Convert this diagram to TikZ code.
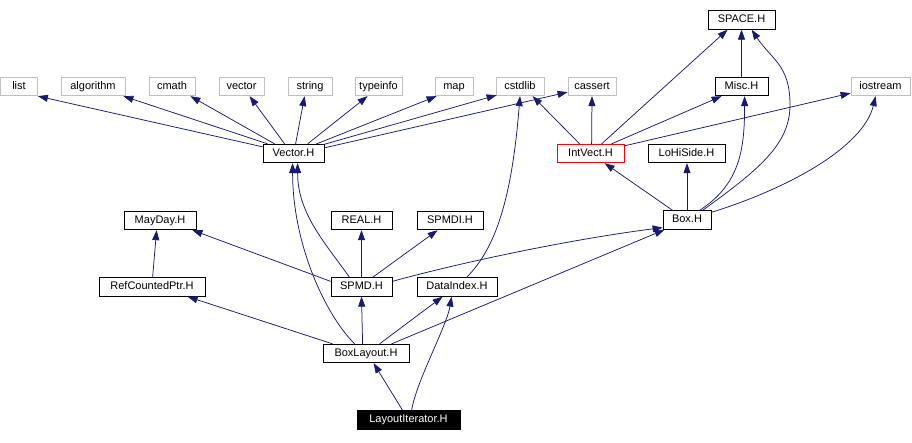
\documentclass[tikz,border=0pt]{standalone}
\usepackage{fontspec}
\setmainfont{Liberation Sans}
\usetikzlibrary{arrows.meta,calc}
\definecolor{edgec}{RGB}{25,25,112}
\definecolor{grayc}{RGB}{191,191,191}
\begin{document}
\begin{tikzpicture}[x=1pt,y=-1pt,
  font=\fontsize{11}{12}\selectfont,
  hdr/.style={draw=black, line width=0.8pt, inner sep=0pt, minimum height=18.5pt, text height=8pt, text depth=2.2pt, fill=white},
  ext/.style={hdr, draw=grayc},
  cur/.style={hdr, draw=red},
  focus/.style={hdr, fill=black, text=white},
  edge/.style={draw=edgec, line width=0.75pt, -{Triangle[length=10pt,width=7pt]}}]
\useasboundingbox (0,0) rectangle (912,442);
% nodes
\node[hdr, minimum width=67pt] (SPACE) at (741.5,20) {SPACE.H};
\node[ext, minimum width=37pt] (list) at (19,86.5) {list};
\node[ext, minimum width=64pt] (algorithm) at (93,86.5) {algorithm};
\node[ext, minimum width=46pt] (cmath) at (172,86.5) {cmath};
\node[ext, minimum width=45pt] (vector) at (241.5,86.5) {vector};
\node[ext, minimum width=44pt] (string) at (310,86.5) {string};
\node[ext, minimum width=47pt] (typeinfo) at (378.5,86.5) {typeinfo};
\node[ext, minimum width=38pt] (map) at (454,86.5) {map};
\node[ext, minimum width=48pt] (cstdlib) at (520,86.5) {cstdlib};
\node[ext, minimum width=48pt] (cassert) at (592,86.5) {cassert};
\node[hdr, minimum width=53pt] (Misc) at (741.5,86.5) {Misc.H};
\node[ext, minimum width=59pt] (iostream) at (880.5,86.5) {iostream};
\node[hdr, minimum width=61pt] (Vector) at (293.5,153.5) {Vector.H};
\node[cur, minimum width=67pt] (IntVect) at (590.5,153.5) {IntVect.H};
\node[hdr, minimum width=77pt] (LoHiSide) at (686.5,153.5) {LoHiSide.H};
\node[hdr, minimum width=72pt] (MayDay) at (160,220.5) {MayDay.H};
\node[hdr, minimum width=61pt] (REAL) at (361.5,220.5) {REAL.H};
\node[hdr, minimum width=66pt] (SPMDI) at (450,220.5) {SPMDI.H};
\node[hdr, minimum width=48pt] (Box) at (687,220) {Box.H};
\node[hdr, minimum width=106pt] (RefCountedPtr) at (152,287) {RefCountedPtr.H};
\node[hdr, minimum width=61pt] (SPMD) at (361.5,287) {SPMD.H};
\node[hdr, minimum width=80pt] (DataIndex) at (457,287) {DataIndex.H};
\node[hdr, minimum width=86pt] (BoxLayout) at (366,353.5) {BoxLayout.H};
\node[focus, minimum width=103pt] (LayoutIterator) at (408.5,420) {LayoutIterator.H};
\coordinate (bsp) at (790,105);
% Vector.H
\draw[edge] ($(Vector.north west)+(0,3)$) -- (list.south east);
\draw[edge] ($(Vector.north west)+(5,0)$) -- ($(algorithm.south east)+(-2,0)$);
\draw[edge] ($(Vector.north west)+(12,0)$) -- ($(cmath.south east)+(-5,0)$);
\draw[edge] ($(Vector.north west)+(22,0)$) -- ($(vector.south west)+(31,0)$);
\draw[edge] ($(Vector.north west)+(33,0)$) -- ($(string.south west)+(17,0)$);
\draw[edge] ($(Vector.north west)+(45,0)$) -- ($(typeinfo.south west)+(13,0)$);
\draw[edge] ($(Vector.north west)+(54,0)$) -- ($(map.south west)+(2,0)$);
\draw[edge] ($(Vector.north east)+(-2,1)$) -- ($(cstdlib.south west)+(1,-1)$);
\draw[edge] ($(Vector.north east)+(0,4)$) -- ($(cassert.south west)+(0,-4)$);
% IntVect.H
\draw[edge] ($(IntVect.north west)+(23,0)$) -- ($(cstdlib.south west)+(37,0)$);
\draw[edge] ($(IntVect.north west)+(35,0)$) -- (cassert.south);
\draw[edge] ($(IntVect.north west)+(45,0)$) -- ($(SPACE.south west)+(20,0)$);
\draw[edge] ($(IntVect.north west)+(55,0)$) -- ($(Misc.south west)+(7,0)$);
\draw[edge] ($(IntVect.north east)+(0,2)$) -- ($(iostream.south west)+(0,-3)$);
% Misc.H
\draw[edge] (Misc) -- (SPACE);
% Box.H
\draw[edge] ($(Box.north west)+(10,0)$) -- ($(IntVect.south west)+(48,0)$);
\draw[edge] (Box.north) -- (Box.north |- LoHiSide.south);
\draw[edge] ($(Box.north west)+(37,0)$) .. controls +(40,-26) and +(0,54) .. ($(Misc.south west)+(30,0)$);
\draw[edge] ($(Box.north west)+(40,0)$) .. controls +(55,-40) and +(0,40) .. (bsp) .. controls +(0,-40) and +(20,30) .. ($(SPACE.south west)+(44,0)$);
\draw[edge] ($(Box.north east)+(0,2)$) .. controls +(80,-25) and +(-12,50) .. ($(iostream.south west)+(25,0)$);
% SPMD.H
\draw[edge] ($(SPMD.north west)+(19,0)$) .. controls +(-25,-35) and +(0,50) .. ($(Vector.south west)+(35,0)$);
\draw[edge] ($(SPMD.north west)+(0,4)$) -- ($(MayDay.south east)+(-4,0)$);
\draw[edge] (SPMD) -- (REAL);
\draw[edge] ($(SPMD.north west)+(42,0)$) -- ($(SPMDI.south west)+(21,0)$);
\draw[edge] ($(SPMD.north east)+(0,4)$) .. controls +(80,-22) and +(-80,10) .. ($(Box.south west)+(0,-2)$);
% DataIndex.H
\draw[edge] ($(DataIndex.north west)+(50,0)$) .. controls +(30,-30) and +(-8,100) .. (cstdlib.south);
% RefCountedPtr.H
\draw[edge] ($(RefCountedPtr.north west)+(54,0)$) -- ($(MayDay.south west)+(33,0)$);
% BoxLayout.H
\draw[edge] ($(BoxLayout.north west)+(10,0)$) -- ($(RefCountedPtr.south west)+(89,0)$);
\draw[edge] ($(BoxLayout.north west)+(32,0)$) .. controls +(-30,-30) and +(0,80) .. ($(Vector.south west)+(30,0)$);
\draw[edge] ($(BoxLayout.north west)+(40,0)$) -- (SPMD.south);
\draw[edge] ($(BoxLayout.north west)+(57,0)$) -- ($(DataIndex.south west)+(26,0)$);
\draw[edge] ($(BoxLayout.north west)+(69,0)$) -- ($(Box.south west)+(2,0)$);
% LayoutIterator.H
\draw[edge] ($(LayoutIterator.north west)+(46,0)$) -- ($(BoxLayout.south west)+(51,0)$);
\draw[edge] ($(LayoutIterator.north west)+(55,0)$) .. controls +(5,-30) and +(-5,30) .. ($(DataIndex.south west)+(35,0)$);
\end{tikzpicture}
\end{document}
